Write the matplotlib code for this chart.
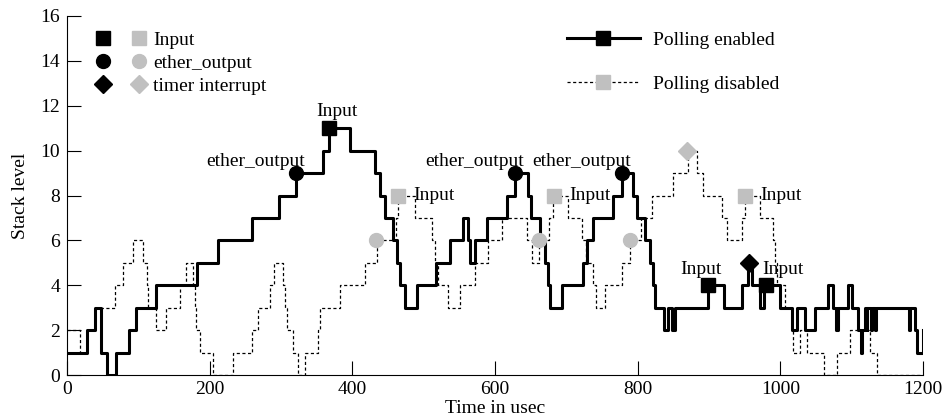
import matplotlib
matplotlib.use("Agg")
import matplotlib.pyplot as plt
from matplotlib.lines import Line2D
from matplotlib.legend_handler import HandlerTuple

plt.rcParams['font.family'] = ['Liberation Serif', 'DejaVu Serif']
plt.rcParams['font.size'] = 14

# Polling enabled: stack level changes (time in usec, new level)
en_t = [0, 28.5, 39.3, 47.2, 55.6, 68.7, 87.4, 96.7, 124.8, 182.7, 212.2, 258.9,
        297.2, 321, 358.4, 367.3, 396.7, 431.8, 438.8, 445.8, 457.5, 462.2, 466.8,
        473.9, 490.2, 516.8, 536.5, 555.6, 562.6, 565, 572, 588.4, 617.3, 628,
        646.7, 650, 663, 670, 674.8, 677, 693.5, 723.9, 728.6, 737.9, 765.9, 777.6,
        794, 798.7, 810.3, 817.3, 822, 824.3, 837, 842, 848, 853, 899, 921, 945.8,
        955.2, 959.8, 971.5, 977, 999.6, 1016, 1023, 1034.6, 1048.6,
        1067.4, 1074.4, 1078, 1081.5, 1095.4, 1100.5, 1109.4, 1113, 1115, 1118.7,
        1121, 1122, 1127, 1128, 1133, 1134, 1180, 1182, 1188.5, 1191, 1199.5, 1200]
en_lv = [1, 2, 3, 1, 0, 1, 2, 3, 4, 5, 6, 7,
         8, 9, 10, 11, 10, 9, 8, 7, 6, 5, 4,
         3, 4, 5, 6, 7, 6, 5, 6, 7, 8, 9,
         8, 7, 6, 5, 4, 3, 4, 5, 6, 7, 8, 9,
         8, 7, 6, 5, 4, 3, 2, 3, 2, 3, 4, 3, 4,
         5, 4, 3, 4, 3, 2, 3, 2, 3,
         4, 3, 2, 3, 4, 3, 2, 1, 2, 3,
         2, 3, 2, 3, 2, 3, 2, 3, 2, 1, 2, 2]

# Polling disabled
dis_t = [0, 18.2, 28.5, 39.3, 67.3, 79, 92, 107, 112.6, 114, 124.8, 138.8, 158.5,
         166.8, 177, 179.4, 181, 186.5, 205, 233, 259, 268.2, 285, 290, 303.3, 305.6,
         308, 317.3, 324.3, 333.7, 352.3, 354.7, 382.7, 417.8, 434.2, 461.5, 464.5,
         488, 511.2, 516, 520.6, 534.6, 551, 572, 590.7, 609.4, 644.5, 651.5, 661.5,
         676, 682, 702.8, 722, 728, 737, 741, 754.2, 778, 789.3, 804, 820, 850, 870,
         882.8, 892, 917.8, 924.9, 945.8, 950.5, 971.5, 990.2, 992.5, 995, 1006.6,
         1016, 1018.3, 1027.6, 1038, 1061, 1079, 1098, 1126, 1135, 1200]
dis_lv = [2, 1, 2, 3, 4, 5, 6, 5, 4, 3, 2, 3, 4,
          5, 4, 3, 2, 1, 0, 1, 2, 3, 4, 5, 4, 3,
          2, 1, 0, 1, 2, 3, 4, 5, 6, 7, 8,
          7, 6, 5, 4, 3, 4, 5, 6, 7, 6, 5, 6,
          7, 8, 7, 6, 5, 4, 3, 4, 5, 6, 7, 8, 9, 10,
          9, 8, 7, 6, 7, 8, 7, 6, 5, 4, 3,
          2, 1, 2, 1, 0, 1, 2, 1, 0, 0]

# events (time, level)
en_input_t, en_input_v = [367, 899, 980], [11, 4, 4]
en_ether_t, en_ether_v = [321, 628, 777.6], [9, 9, 9]
en_timer_t, en_timer_v = [956], [5]
dis_input_t, dis_input_v = [464.5, 682.7, 950.5], [8, 8, 8]
dis_ether_t, dis_ether_v = [433.5, 662, 789.3], [6, 6, 6]
dis_timer_t, dis_timer_v = [869.6], [10]

GRAY = '#c0c0c0'

fig = plt.figure(figsize=(9.47, 4.17), dpi=100)
ax = fig.add_axes([67 / 947, 1 - 375 / 417, 856 / 947, 359 / 417])

ax.step(dis_t, dis_lv, where='post', color='black', lw=0.9, linestyle=(0, (2.5, 2)), zorder=2)
ax.step(en_t, en_lv, where='post', color='black', lw=2.2, zorder=3)

ms_kw = dict(linestyle='none', zorder=5)
ax.plot(dis_input_t, dis_input_v, marker='s', ms=9.4, color=GRAY, **ms_kw)
ax.plot(dis_ether_t, dis_ether_v, marker='o', ms=10, color=GRAY, **ms_kw)
ax.plot(dis_timer_t, dis_timer_v, marker='D', ms=9.5, color=GRAY, **ms_kw)
ax.plot(en_input_t, en_input_v, marker='s', ms=9.4, color='black', **ms_kw)
ax.plot(en_ether_t, en_ether_v, marker='o', ms=10, color='black', **ms_kw)
ax.plot(en_timer_t, en_timer_v, marker='D', ms=9.5, color='black', **ms_kw)

# labels next to events (offsets in points)
ann = dict(textcoords='offset points', zorder=6)
ax.annotate('Input', (en_input_t[0], en_input_v[0]), xytext=(6, 12), ha='center', va='center', **ann)
ax.annotate('Input', (en_input_t[1], en_input_v[1]), xytext=(-5, 11), ha='center', va='center', **ann)
ax.annotate('Input', (en_input_t[2], en_input_v[2]), xytext=(12, 11), ha='center', va='center', **ann)
for t, v in zip(en_ether_t, en_ether_v):
    ax.annotate('ether_output', (t, v), xytext=(6.5, 8), ha='right', va='center', **ann)
for t, v in zip(dis_input_t, dis_input_v):
    ax.annotate('Input', (t, v), xytext=(11, 0), ha='left', va='center', **ann)

ax.set_xlim(0, 1200)
ax.set_ylim(0, 16)
ax.set_xticks(range(0, 1201, 200))
ax.set_yticks(range(0, 17, 2))
ax.tick_params(direction='in', length=10, width=0.8)
ax.tick_params(axis='y', pad=5)
ax.tick_params(axis='x', pad=4)
for s in ['top', 'right']:
    ax.spines[s].set_visible(False)
ax.set_xlabel('Time in usec', labelpad=2)
ax.set_ylabel('Stack level', labelpad=8)

# event legend (black = polling enabled, gray = polling disabled)
h_in = (Line2D([], [], marker='s', ms=9.4, color='black', ls='none'),
        Line2D([], [], marker='s', ms=9.4, color=GRAY, ls='none'))
h_eo = (Line2D([], [], marker='o', ms=10, color='black', ls='none'),
        Line2D([], [], marker='o', ms=10, color=GRAY, ls='none'))
h_ti = (Line2D([], [], marker='D', ms=9.5, color='black', ls='none'),
        Line2D([], [], marker='D', ms=9.5, color=GRAY, ls='none'))
leg1 = ax.legend([h_in, h_eo, h_ti], ['Input', 'ether_output', 'timer interrupt'],
                 handler_map={tuple: HandlerTuple(ndivide=None, pad=0.82)},
                 loc='upper left', bbox_to_anchor=(0.0304, 0.958), frameon=False,
                 borderpad=0, borderaxespad=0, handlelength=2.9, handletextpad=0.2,
                 labelspacing=0.28, numpoints=1)
ax.add_artist(leg1)

h_en = Line2D([], [], color='black', lw=2.2, marker='s', ms=9.4)
h_dis = Line2D([], [], color='black', lw=0.9, linestyle=(0, (2.5, 2)), marker='s', ms=9.4,
               markerfacecolor=GRAY, markeredgecolor=GRAY)
ax.legend([h_en, h_dis], ['Polling enabled', 'Polling disabled'],
          loc='upper left', bbox_to_anchor=(0.584, 0.958), frameon=False,
          borderpad=0, borderaxespad=0, handlelength=3.76, handletextpad=0.67,
          labelspacing=1.36, numpoints=1)

fig.savefig('out.png', dpi=100)
